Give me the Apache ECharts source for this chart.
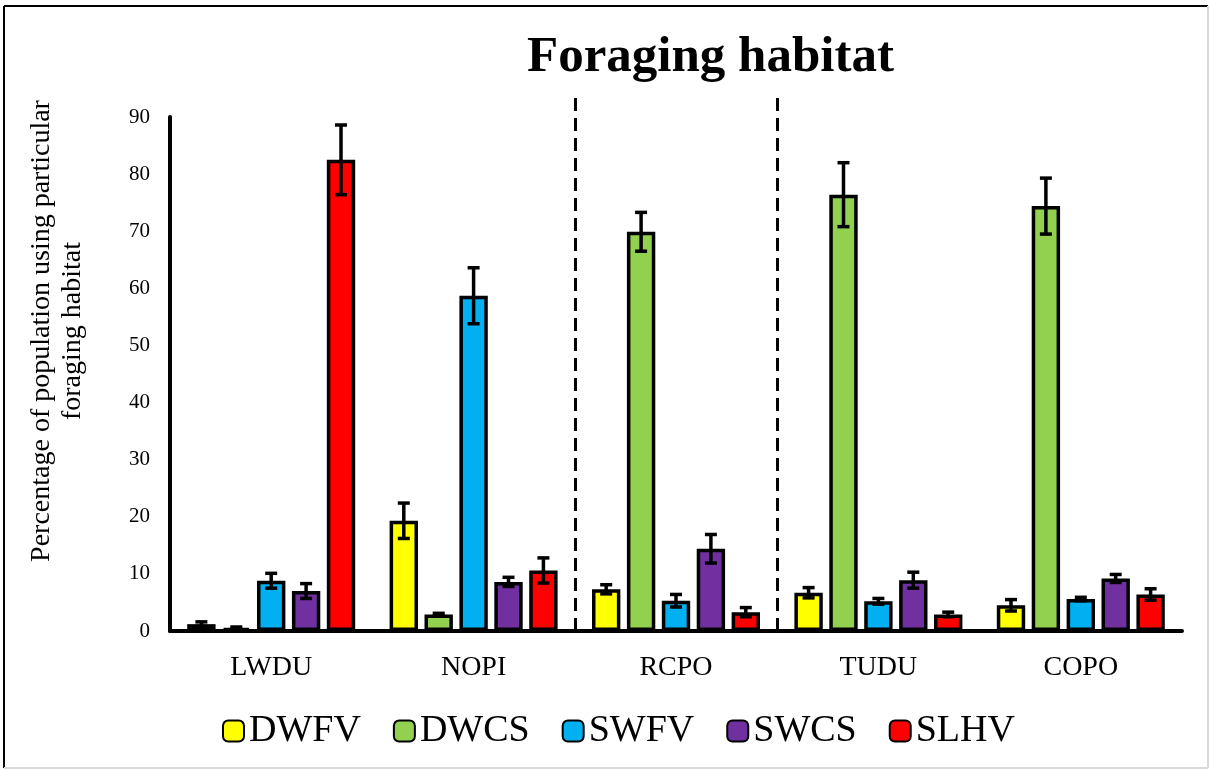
<!DOCTYPE html>
<html>
<head>
<meta charset="utf-8">
<script src="https://cdn.jsdelivr.net/npm/echarts@6/dist/echarts.min.js"></script>
<style>html,body{margin:0;padding:0;background:#fff;}#c{width:1210px;height:770px;}</style>
</head>
<body>
<div id="c"></div>
<script>
// ---- data ----
const categories = ['LWDU', 'NOPI', 'RCPO', 'TUDU', 'COPO'];
const seriesNames = ['DWFV', 'DWCS', 'SWFV', 'SWCS', 'SLHV'];
const DWFV = [1.2, 19.3, 7.3, 6.7, 4.5];
const DWCS = [0.5, 2.9, 69.9, 76.4, 74.4];
const SWFV = [8.8, 58.7, 5.3, 5.2, 5.6];
const SWCS = [7.0, 8.6, 14.4, 8.9, 9.2];
const SLHV = [82.5, 10.6, 3.3, 2.9, 6.4];
const DWFV_err = [0.4, 3.1, 0.8, 0.9, 1.0];
const DWCS_err = [0.2, 0.2, 3.4, 5.6, 4.9];
const SWFV_err = [1.3, 4.9, 1.1, 0.5, 0.3];
const SWCS_err = [1.3, 0.8, 2.5, 1.4, 0.7];
const SLHV_err = [6.1, 2.2, 0.8, 0.4, 1.0];
const yTicks = [0, 10, 20, 30, 40, 50, 60, 70, 80, 90];
const separatorsAfter = ['NOPI', 'RCPO'];

const values = [DWFV, DWCS, SWFV, SWCS, SLHV];
const errors = [DWFV_err, DWCS_err, SWFV_err, SWCS_err, SLHV_err];
const colors = ['#FFFF00', '#92D050', '#00B0F0', '#7030A0', '#FF0000'];

const FONT = '"Liberation Serif", "Times New Roman", serif';
const CAT_GAP = 0.17, BAR_GAP = 0.23;
const n = seriesNames.length;

const series = [];
seriesNames.forEach((name, i) => {
  series.push({
    name: name, type: 'bar', xAxisIndex: 0, yAxisIndex: 0,
    data: values[i],
    barCategoryGap: (CAT_GAP * 100) + '%', barGap: (BAR_GAP * 100) + '%',
    itemStyle: { color: colors[i], borderColor: '#000', borderWidth: 3.5 },
    emphasis: { disabled: true }
  });
});
seriesNames.forEach((name, i) => {
  series.push({
    name: name + ' error', type: 'custom', xAxisIndex: 0, yAxisIndex: 0, z: 5,
    data: values[i].map((v, k) => [k, v - errors[i][k], v + errors[i][k]]),
    encode: { x: 0, y: [1, 2] },
    renderItem: function (params, api) {
      const band = api.size([1, 0])[0];
      const bw = band * (1 - CAT_GAP) / (n + (n - 1) * BAR_GAP);
      const off = (i - (n - 1) / 2) * bw * (1 + BAR_GAP);
      const lo = api.coord([api.value(0), api.value(1)]);
      const hi = api.coord([api.value(0), api.value(2)]);
      const x = lo[0] + off, h = 6;
      const st = { stroke: '#000', lineWidth: 3.5 };
      return { type: 'group', children: [
        { type: 'line', shape: { x1: x, y1: lo[1], x2: x, y2: hi[1] }, style: st },
        { type: 'line', shape: { x1: x - h, y1: lo[1], x2: x + h, y2: lo[1] }, style: st },
        { type: 'line', shape: { x1: x - h, y1: hi[1], x2: x + h, y2: hi[1] }, style: st }
      ]};
    }
  });
});
series.push({
  type: 'line', xAxisIndex: 1, yAxisIndex: 1, data: [], silent: true,
  markLine: {
    silent: true, symbol: 'none', label: { show: false },
    lineStyle: { color: '#000', width: 3, type: [13, 7] },
    data: separatorsAfter.map(c => ({ xAxis: categories.indexOf(c) + 1 }))
  }
});

const chart = echarts.init(document.getElementById('c'));
chart.setOption({
  backgroundColor: '#fff',
  animation: false,
  title: {
    text: 'Foraging habitat', left: 522, top: 27,
    textStyle: { fontFamily: FONT, fontWeight: 'bold', fontSize: 51, color: '#000' }
  },
  legend: {
    data: seriesNames, left: 217, top: 705,
    itemWidth: 21, itemHeight: 21, itemGap: 32, icon: 'roundRect',
    textStyle: { fontFamily: FONT, fontSize: 38, color: '#000', lineHeight: 42 }
  },
  grid: [
    { left: 170, right: 28, top: 117, bottom: 139 },
    { left: 170, right: 28, top: 92, bottom: 139 }
  ],
  xAxis: [
    { type: 'category', gridIndex: 0, data: categories,
      axisLine: { lineStyle: { color: '#000', width: 4 } },
      axisTick: { show: false },
      axisLabel: { fontFamily: FONT, fontSize: 28, color: '#000', margin: 23 } },
    { type: 'value', gridIndex: 1, min: 0, max: categories.length, show: false }
  ],
  yAxis: [
    { type: 'value', gridIndex: 0, min: yTicks[0], max: yTicks[yTicks.length - 1],
      interval: yTicks[1] - yTicks[0],
      axisLine: { show: true, lineStyle: { color: '#000', width: 4 } },
      axisTick: { show: false }, splitLine: { show: false },
      axisLabel: { fontFamily: FONT, fontSize: 21, color: '#000', margin: 20 } },
    { type: 'value', gridIndex: 1, min: 0, max: 1, show: false }
  ],
  graphic: [
    { type: 'line', shape: { x1: 4, y1: 6, x2: 1208, y2: 6 }, style: { stroke: '#000', lineWidth: 2 } },
    { type: 'line', shape: { x1: 4, y1: 6, x2: 4, y2: 768 }, style: { stroke: '#000', lineWidth: 2 } },
    { type: 'line', shape: { x1: 1208, y1: 6, x2: 1208, y2: 768 }, style: { stroke: '#d9d9d9', lineWidth: 2 } },
    { type: 'line', shape: { x1: 4, y1: 768, x2: 1208, y2: 768 }, style: { stroke: '#d9d9d9', lineWidth: 2 } },
    { type: 'text', x: 57, y: 331, rotation: Math.PI / 2,
      style: { text: 'Percentage of population using particular\nforaging habitat',
        font: '28px ' + FONT, fill: '#000', align: 'center', verticalAlign: 'middle', lineHeight: 31 } }
  ],
  series: series
});
</script>
</body>
</html>
